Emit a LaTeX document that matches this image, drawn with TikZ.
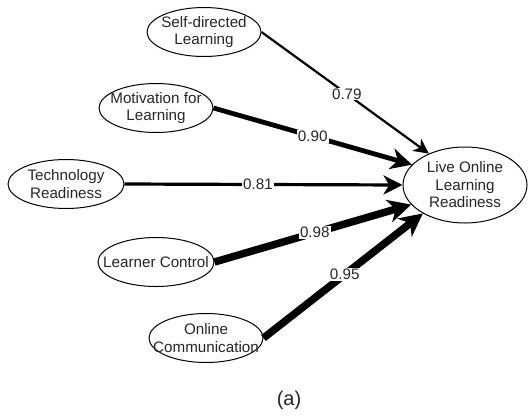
\documentclass[tikz,border=0pt]{standalone}
\usepackage{fontspec}
\setmainfont{Liberation Sans}
\usetikzlibrary{arrows.meta,shapes.geometric}

\begin{document}
\begin{tikzpicture}[
			x=1pt, y=-1pt,
			every node/.style={font=\fontsize{15.2}{17.5}\selectfont, text=black!85},
			every label/.style={align=center, font=\fontsize{15.2}{17.5}\selectfont, text=black!85},
			factor/.style={draw, ellipse, line width=1pt, minimum width=114pt, minimum height=49pt, inner sep=0pt},
			coef/.style={fill=white, inner sep=1pt},
			line cap=butt,
			line join=miter
			]
			\useasboundingbox (0,0) rectangle (528,416);
			
			% Factors
			\node[factor, label=center:{Self-directed\\Learning}] (sdl) at (204,32) {};
			\node[factor, label=center:{Motivation for\\Learning}] (mfl) at (156,108) {};
			\node[factor, minimum width=116pt, label=center:{Technology\\Readiness}] (trd) at (66,184) {};
			\node[factor, minimum width=116pt, label=center:{Learner Control}] (lco) at (156,262) {};
			\node[factor, label=center:{Online\\Communication}] (oc) at (206,338) {};
			
			% Outcome
			\node[factor, minimum width=124pt, minimum height=76pt, label=center:{Live Online\\Learning\\Readiness}] (lolr) at (465,185) {};
			
			% Paths
			\foreach \src/\ang/\lw/\tip/\val/\p in {sdl/139/2.2/15/0.79/0.51, mfl/159/4.8/21/0.90/0.5, trd/180/3.2/19/0.81/0.48, lco/200/7.5/23/0.98/0.51, oc/214/7.5/23/0.95/0.51}
			\draw[-{Stealth[length=\tip pt, width=\tip pt, inset=0.3*\tip pt]}, line width=\lw pt] (\src.east) -- node[coef, pos=\p] {\val} (lolr.\ang);
			
			% Caption
			\node[font=\fontsize{20}{22}\selectfont] (cap) at (289,400) {(a)};
		\end{tikzpicture}
\end{document}
